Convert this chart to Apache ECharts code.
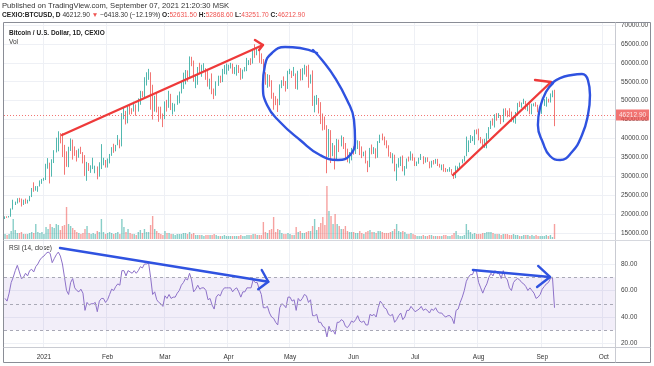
<!DOCTYPE html>
<html><head><meta charset="utf-8">
<script src="https://cdn.jsdelivr.net/npm/echarts@6/dist/echarts.min.js"></script>
<style>html,body{margin:0;padding:0;background:#fff}#c{width:654px;height:366px}</style>
</head><body><div id="c"></div>
<script>
// ---- data (prices in thousands of USD), one entry per day starting 2020-12-13 ----
const startDate = [2020, 11, 13];
const totalDays = 298; // axis runs to early October
const opens = [18.8,19.4,19.3,19.4,21.4,22.8,23.1,23.9,23.5,22.7,23.8,23.2,23.7,24.7,26.5,26.3,27.1,27.4,28.8,
29.0,29.4,32.2,33.0,32.0,34.0,36.8,39.4,40.7,40.2,38.3,35.5,33.9,37.3,39.2,36.8,36.2,35.8,36.6,36.1,35.5,30.8,33.0,32.1,32.3,32.4,32.6,30.4,33.5,34.3,34.3,
33.1,33.5,35.5,37.5,36.9,38.3,39.3,38.9,46.2,46.5,44.8,48.0,47.4,47.2,48.7,48.0,49.2,52.2,51.7,55.9,56.1,57.5,54.2,48.8,49.7,47.1,46.3,46.2,
45.1,49.6,48.4,50.5,48.4,48.8,48.9,51.0,52.4,54.9,56.0,57.8,57.3,61.2,59.3,55.9,56.9,58.9,57.6,58.0,58.1,57.4,54.1,54.3,52.3,51.3,55.0,55.9,55.8,57.6,58.7,
58.9,58.9,59.1,57.6,58.8,59.1,58.0,56.1,58.1,58.1,59.8,60.0,59.9,63.6,63.0,63.2,61.4,60.1,56.3,55.7,56.5,53.8,51.7,51.1,50.1,49.1,54.0,55.0,54.9,53.6,
57.8,57.8,56.6,57.2,53.2,57.5,56.4,57.4,58.9,58.3,55.9,56.8,49.5,49.7,49.9,46.8,46.5,43.5,42.9,37.0,40.6,37.3,37.5,34.7,38.8,38.4,39.3,38.5,35.7,34.6,35.7,
37.3,36.7,37.6,39.2,36.9,35.5,35.8,33.6,33.4,37.4,36.7,37.3,35.6,39.1,40.5,40.1,38.4,38.1,35.8,35.5,35.6,31.7,32.5,33.7,34.7,31.6,32.2,34.7,34.5,35.9,
35.0,33.5,33.8,34.7,35.3,33.7,34.2,33.9,32.9,33.8,33.5,34.3,33.1,32.7,32.8,31.8,31.4,31.5,31.8,30.8,29.8,32.1,32.3,33.6,34.3,35.4,37.3,39.4,40.0,40.0,42.2,
41.5,39.9,39.2,38.2,39.7,40.9,42.8,44.6,43.8,46.3,45.6,45.6,44.4,47.8,47.1,47.0,45.9,44.7,44.8,46.7,49.3,48.9,49.3,49.5,47.7,48.9,47.0,49.0,49.0,48.8,47.1,
47.1,48.8,49.3,50.0,49.9,51.8,52.6315];
const highs = [19.4,19.4,19.5,21.5,23.8,23.3,24.2,24.3,24.1,23.8,24.1,23.8,24.8,26.9,28.4,27.4,27.4,28.9,29.3,
29.6,33.3,34.8,33.6,34.5,36.9,40.2,41.9,41.4,41.4,38.3,36.6,37.8,40.0,39.7,37.9,36.9,37.3,37.8,36.4,35.6,33.8,33.5,32.9,34.9,32.8,32.6,33.7,38.5,34.9,34.3,
34.7,35.9,37.7,38.6,38.3,40.9,39.7,46.7,48.2,47.3,48.6,48.9,48.0,49.7,49.0,50.6,52.6,52.5,56.2,57.5,58.4,57.5,54.2,51.3,52.0,48.4,48.4,46.6,
49.8,50.2,52.6,51.8,49.4,49.2,51.4,52.4,54.9,57.4,58.1,58.0,61.7,61.6,60.6,56.9,58.9,60.0,59.5,59.9,58.6,58.4,55.8,57.2,53.2,55.1,56.6,56.6,58.4,59.4,59.8,
59.5,60.0,59.8,58.9,59.5,59.4,58.6,58.2,58.9,61.3,60.7,61.2,63.7,64.9,63.8,63.6,62.5,61.0,57.5,57.0,56.8,55.4,52.1,51.2,50.5,54.3,55.4,56.4,55.2,57.9,
58.4,57.9,58.9,57.2,57.9,58.4,58.6,59.5,59.2,59.5,56.9,58.0,51.3,51.5,50.7,49.6,46.6,45.8,43.5,42.5,42.2,38.8,38.2,39.9,39.7,40.8,40.4,38.8,37.3,36.4,37.5,
37.9,38.2,39.5,39.3,37.9,36.5,36.8,34.1,37.5,38.4,37.7,37.4,39.3,41.0,41.3,40.5,39.5,38.2,36.4,36.1,35.7,33.3,34.8,35.2,35.5,32.7,34.7,35.2,36.6,36.0,
35.0,33.9,34.9,35.9,35.3,35.0,35.0,33.9,34.1,34.3,34.6,34.6,33.3,33.1,33.2,32.2,31.9,32.4,31.9,31.0,32.8,32.6,33.6,34.5,35.4,40.5,39.5,40.9,40.6,42.3,42.4,
42.6,40.4,39.8,39.9,41.4,43.0,44.7,45.3,46.4,46.7,46.7,46.2,47.9,48.0,47.4,48.0,47.1,46.0,47.0,49.4,49.8,49.5,50.5,49.9,49.2,49.3,49.2,49.3,49.6,48.9,48.3,
49.0,50.4,51.0,50.5,51.9,52.7,52.8686];
const lows = [18.7,19.0,19.1,19.3,21.2,22.4,22.8,23.1,22.0,22.4,22.7,22.8,23.4,24.5,25.9,26.2,25.9,27.3,28.0,
28.8,29.0,32.0,28.1,29.9,33.5,36.3,36.6,38.7,35.1,30.4,32.5,32.4,36.7,34.4,35.4,33.9,34.9,35.9,33.4,30.1,28.8,31.4,30.9,31.9,30.8,29.2,29.9,31.9,32.9,32.3,
32.3,33.4,35.4,36.2,36.6,38.2,37.4,37.9,45.1,43.7,44.0,46.3,46.4,47.1,46.0,47.1,48.9,50.9,50.9,54.0,55.5,47.6,45.0,47.1,46.9,44.4,45.2,43.0,
45.1,47.1,48.1,47.5,46.3,47.1,48.9,49.3,51.9,53.1,54.3,55.0,56.1,59.1,55.0,53.3,54.2,57.0,56.3,57.9,55.5,53.7,53.0,51.7,50.4,51.3,53.9,54.7,54.9,57.0,56.9,
57.9,58.5,57.1,57.0,56.6,57.3,55.5,55.8,57.7,57.8,59.4,59.4,59.8,61.3,62.0,60.0,59.7,51.5,54.2,53.4,53.7,50.5,47.6,48.8,47.0,48.8,53.3,53.9,52.4,53.1,
57.0,56.0,56.5,53.1,52.9,55.3,55.4,56.9,56.3,53.4,54.5,48.6,46.9,48.9,46.6,43.8,42.1,42.3,30.8,35.0,33.5,35.3,31.8,34.5,36.4,37.9,37.2,34.8,33.7,33.4,34.2,
35.7,35.9,37.2,35.6,34.8,35.3,33.4,31.1,32.4,35.8,35.9,34.7,34.9,38.8,39.5,38.2,37.4,35.2,34.8,33.4,31.3,28.8,32.3,32.7,31.3,30.2,32.0,33.9,34.2,34.1,
32.7,32.7,33.3,34.3,33.2,33.6,33.8,32.1,32.3,33.1,33.3,32.7,32.3,31.6,31.2,31.1,31.2,31.2,30.4,29.3,29.5,31.7,31.9,33.4,33.9,35.3,36.4,38.8,39.3,38.3,41.1,
39.5,38.7,37.7,37.5,37.4,39.9,42.5,43.4,42.9,44.7,45.4,43.8,44.3,45.9,45.6,45.7,44.4,44.2,43.9,46.6,48.3,48.1,49.1,47.6,47.2,46.4,46.4,48.5,48.4,46.9,46.7,
46.5,48.6,48.4,49.5,49.5,50.9,43.2517];
const closes = [19.4,19.3,19.4,21.4,22.8,23.1,23.9,23.5,22.7,23.8,23.2,23.7,24.7,26.5,26.3,27.1,27.4,28.8,29.0,
29.4,32.2,33.0,32.0,34.0,36.8,39.4,40.7,40.2,38.3,35.5,33.9,37.3,39.2,36.8,36.2,35.8,36.6,36.1,35.5,30.8,33.0,32.1,32.3,32.4,32.6,30.4,33.5,34.3,34.3,33.1,
33.5,35.5,37.5,36.9,38.3,39.3,38.9,46.2,46.5,44.8,48.0,47.4,47.2,48.7,48.0,49.2,52.2,51.7,55.9,56.1,57.5,54.2,48.8,49.7,47.1,46.3,46.2,45.1,
49.6,48.4,50.5,48.4,48.8,48.9,51.0,52.4,54.9,56.0,57.8,57.3,61.2,59.3,55.9,56.9,58.9,57.6,58.0,58.1,57.4,54.1,54.3,52.3,51.3,55.0,55.9,55.8,57.6,58.7,58.9,
58.9,59.1,57.6,58.8,59.1,58.0,56.1,58.1,58.1,59.8,60.0,59.9,63.6,63.0,63.2,61.4,60.1,56.3,55.7,56.5,53.8,51.7,51.1,50.1,49.1,54.0,55.0,54.9,53.6,57.8,
57.8,56.6,57.2,53.2,57.5,56.4,57.4,58.9,58.3,55.9,56.8,49.5,49.7,49.9,46.8,46.5,43.5,42.9,37.0,40.6,37.3,37.5,34.7,38.8,38.4,39.3,38.5,35.7,34.6,35.7,37.3,
36.7,37.6,39.2,36.9,35.5,35.8,33.6,33.4,37.4,36.7,37.3,35.6,39.1,40.5,40.1,38.4,38.1,35.8,35.5,35.6,31.7,32.5,33.7,34.7,31.6,32.2,34.7,34.5,35.9,35.0,
33.5,33.8,34.7,35.3,33.7,34.2,33.9,32.9,33.8,33.5,34.3,33.1,32.7,32.8,31.8,31.4,31.5,31.8,30.8,29.8,32.1,32.3,33.6,34.3,35.4,37.3,39.4,40.0,40.0,42.2,41.5,
39.9,39.2,38.2,39.7,40.9,42.8,44.6,43.8,46.3,45.6,45.6,44.4,47.8,47.1,47.0,45.9,44.7,44.8,46.7,49.3,48.9,49.3,49.5,47.7,48.9,47.0,49.0,49.0,48.8,47.1,47.1,
48.8,49.3,50.0,49.9,51.8,52.6315,46.2129];
const volumes = [5,4,5,8,20,9,6,6,7,5,5,5,6,7,6,15,7,6,7,
5,12,10,15,12,11,15,14,9,13,14,32,15,13,11,9,7,6,5,6,10,13,6,5,6,5,8,7,20,7,5,
6,7,6,5,6,7,5,20,12,7,10,6,5,5,4,7,9,6,10,7,7,14,23,10,8,6,5,4,
8,6,6,5,5,4,5,5,5,6,6,5,7,5,6,4,4,4,4,3,4,4,4,4,5,4,3,3,3,4,3,
3,3,3,3,3,3,4,3,3,4,4,4,5,5,4,4,4,17,7,6,9,10,22,7,10,9,6,5,5,6,
5,4,4,12,7,8,6,6,7,8,8,13,20,9,12,16,22,14,53,28,23,15,25,15,13,10,10,13,8,7,7,
7,6,6,8,6,5,7,8,9,7,7,6,8,8,7,6,6,6,7,8,10,15,8,7,8,7,5,5,6,5,
4,3,3,3,4,3,3,4,4,3,3,3,3,3,4,4,3,3,4,6,8,4,3,3,4,15,9,7,5,6,5,
5,5,6,6,7,7,7,6,5,5,5,4,5,5,5,4,4,5,4,4,3,3,4,4,4,3,4,3,4,3,3,
3,3,4,3,4,2,15];
const rsi = [54,52,58,66,70,75,79,74,69,70,73,71,75,76,74,78,80,83,85,86,
88,89,88,81,84,87,89,86,80,70,60,57,66,69,62,60,59,61,58,45,
51,49,50,50,51,44,52,54,54,51,53,57,61,60,63,65,64,75,75,71,
75,74,73,75,73,75,78,77,80,80,81,70,57,59,53,51,50,48,56,54,
57,54,55,55,58,60,64,66,69,68,73,68,59,61,64,61,62,62,60,53,
54,49,46,55,57,56,60,62,62,62,62,59,61,62,59,55,59,59,62,62,
62,68,66,66,61,57,47,47,48,43,40,39,36,34,47,50,49,47,55,55,
52,53,45,54,52,54,57,56,51,53,41,41,42,36,36,33,32,25,33,29,
30,27,36,36,38,37,33,32,34,37,36,38,41,37,36,37,34,34,42,41,
42,40,47,52,50,47,46,42,41,42,36,38,41,43,38,40,45,45,48,46,
44,45,46,48,45,46,45,43,46,45,47,44,43,43,41,40,41,41,39,35,
45,46,51,55,60,67,70,72,72,76,74,66,62,58,62,65,70,73,71,75,
73,73,69,75,70,68,62,60,66,68,69,68,66,65,63,60,62,60,58,54,
55,57,61,63,65,66,69,70,47];
const priceTicks = [15000,20000,25000,30000,35000,40000,45000,50000,55000,60000,65000,70000];
const rsiTicks = [20,40,60,80];
const monthNames = ['2021','Feb','Mar','Apr','May','Jun','Jul','Aug','Sep','Oct','Nov','Dec'];
const lastPrice = 46212.90;
// hand-drawn annotations, in data coordinates [dayIndex, price] / [dayIndex, rsi]
const redArrow1 = [[27.8,40913],[125.8,64712]];
const redArrow1Head = [[121.9,66030],[125.8,64712],[123.9,63385]];
const redArrow2 = [[218.5,30337],[266.3,54929]];
const redArrow2Head = [[258.5,55458],[266.3,54929]];
const blueLoop1 = [[152.2,62600],[143.9,63910],[136.6,64180],[130.2,62600],[126.8,59420],[125.8,54130],[127.8,48840],[134.1,44350],[143.9,39590],[153.6,35620],[162.4,34300],[168.3,35620],[170.7,39590],[170.2,44880],[166.8,50170],[161.0,55980],[154.6,60740],[150.2,63390]];
const blueLoop2 = [[266.8,54660],[270.7,55980],[276.5,56780],[281.4,57040],[284.3,55450],[285.3,51490],[284.3,46200],[281.4,40910],[276.5,36420],[270.7,34300],[265.8,35360],[262.4,38800],[259.9,43560],[260.9,48050],[263.8,52280],[267.3,54660]];
const rsiArrow1 = [[26.8,92.1],[128.4,66.6]];
const rsiArrow1Head = [[125.2,75.5],[128.4,66.6],[123.5,60.9]];
const rsiArrow2 = [[228.2,75.5],[265.8,70.2]];
const rsiArrow2Head = [[260.0,78.5],[265.8,70.2],[259.5,62.6]];

// ---- build ----
const categories = [];
for (let k = 0; k < totalDays; k++) {
  const d = new Date(Date.UTC(startDate[0], startDate[1], startDate[2] + k));
  categories.push(d.toISOString().slice(0, 10));
}
const UP = '#26a69a', DOWN = '#ef5350';
const candleData = opens.map((o, i) => [o * 1000, closes[i] * 1000, lows[i] * 1000, highs[i] * 1000]);
const volData = volumes.map((v, i) => ({value: v, itemStyle: {color: closes[i] >= opens[i] ? 'rgba(38,166,154,0.55)' : 'rgba(239,83,80,0.55)'}}));
const isMonthStart = (idx, val) => typeof val === 'string' && val.slice(8) === '01';
const FONT = 'Liberation Sans';
const L = 4, R = 39;

function annot(data, color, xIdx, yIdx, smooth) {
  return {type: 'line', xAxisIndex: xIdx, yAxisIndex: yIdx, data: data, symbol: 'none', clip: false,
    smooth: smooth || false, silent: true, z: 10,
    lineStyle: {color: color, width: 2.4, cap: 'round', join: 'round'}};
}
const RED = '#ee3a3a', BLUE = '#2f52e0';

const chart = echarts.init(document.getElementById('c'), null, {renderer: 'canvas'});
chart.setOption({
  animation: false,
  backgroundColor: '#ffffff',
  textStyle: {fontFamily: FONT},
  grid: [
    {left: L, right: R, top: 25, height: 208},      // price
    {left: L, right: R, top: 180, height: 59},      // volume
    {left: L, right: R, top: 264, height: 79.5},    // rsi
    {left: L, right: R, top: 22, height: 325}       // month gridlines + time labels
  ],
  xAxis: [
    {type: 'category', gridIndex: 0, data: categories, show: false},
    {type: 'category', gridIndex: 1, data: categories, show: false},
    {type: 'value', gridIndex: 0, min: -0.5, max: totalDays - 0.5, show: false},
    {type: 'value', gridIndex: 2, min: -0.5, max: totalDays - 0.5, show: false},
    {type: 'category', gridIndex: 3, data: categories, axisLine: {show: false}, axisTick: {show: false},
      axisLabel: {interval: isMonthStart, margin: 7, fontSize: 6.5, color: '#333', fontFamily: FONT,
        formatter: v => monthNames[parseInt(v.slice(5, 7), 10) - 1]},
      splitLine: {show: true, interval: isMonthStart, lineStyle: {color: '#eef0f5', width: 1}}},
    {type: 'category', gridIndex: 2, data: categories, show: false}
  ],
  yAxis: [
    {type: 'value', gridIndex: 0, position: 'right', min: 15000, max: 70000, interval: 5000,
      axisLine: {show: false}, axisTick: {show: false},
      axisLabel: {fontSize: 6.5, color: '#444', margin: 6, fontFamily: FONT, formatter: v => v.toFixed(2)},
      splitLine: {lineStyle: {color: '#eef0f5'}}},
    {type: 'value', gridIndex: 1, min: 0, max: 59, show: false},
    {type: 'value', gridIndex: 2, position: 'right', min: 20, max: 80, interval: 20,
      axisLine: {show: false}, axisTick: {show: false},
      axisLabel: {fontSize: 6.5, color: '#444', margin: 6, fontFamily: FONT, formatter: v => v.toFixed(2)},
      splitLine: {lineStyle: {color: '#eef0f5'}}},
    {type: 'value', gridIndex: 3, min: 0, max: 1, show: false}
  ],
  series: [
    {type: 'bar', xAxisIndex: 1, yAxisIndex: 1, data: volData, barWidth: 1.4, silent: true, z: 1},
    {type: 'candlestick', xAxisIndex: 0, yAxisIndex: 0, data: candleData, barWidth: 1.3, silent: true, z: 3,
      itemStyle: {color: UP, color0: DOWN, borderColor: UP, borderColor0: DOWN, borderWidth: 0.8},
      markLine: {silent: true, symbol: ['none', 'none'], animation: false,
        data: [{yAxis: lastPrice}],
        lineStyle: {color: DOWN, type: [1, 2], width: 1, opacity: 0.8},
        label: {show: true, position: 'end', distance: 0, formatter: lastPrice.toFixed(2),
          backgroundColor: DOWN, color: '#fff', fontSize: 6.5, fontFamily: FONT, padding: [2, 3, 2, 4]}}},
    {type: 'line', xAxisIndex: 5, yAxisIndex: 2, data: rsi, symbol: 'none', silent: true, z: 3, clip: false,
      lineStyle: {color: '#8e72c9', width: 1},
      markArea: {silent: true, itemStyle: {color: 'rgba(126,87,194,0.10)'}, data: [[{yAxis: 30}, {yAxis: 70}]]},
      markLine: {silent: true, symbol: ['none', 'none'], label: {show: false},
        lineStyle: {color: '#a9a9b6', type: [3, 3], width: 1},
        data: [{yAxis: 70}, {yAxis: 50}, {yAxis: 30}]}},
    annot(redArrow1, RED, 2, 0),
    annot(redArrow1Head, RED, 2, 0),
    annot(redArrow2, RED, 2, 0),
    annot(redArrow2Head, RED, 2, 0),
    annot(blueLoop1, BLUE, 2, 0, 0.5),
    annot(blueLoop2, BLUE, 2, 0, 0.5),
    annot(rsiArrow1, BLUE, 3, 2),
    annot(rsiArrow1Head, BLUE, 3, 2),
    annot(rsiArrow2, BLUE, 3, 2),
    annot(rsiArrow2Head, BLUE, 3, 2)
  ],
  graphic: [
    {type: 'rect', shape: {x: 3.5, y: 22.5, width: 647, height: 340}, style: {fill: 'none', stroke: '#8a8d96', lineWidth: 1}, silent: true, z: 20},
    {type: 'line', shape: {x1: 615.5, y1: 22.5, x2: 615.5, y2: 362.5}, style: {stroke: '#c9cbd2', lineWidth: 1}, silent: true, z: 20},
    {type: 'line', shape: {x1: 3.5, y1: 240.5, x2: 650.5, y2: 240.5}, style: {stroke: '#d6d8de', lineWidth: 1}, silent: true, z: 20},
    {type: 'line', shape: {x1: 3.5, y1: 347.5, x2: 650.5, y2: 347.5}, style: {stroke: '#c9cbd2', lineWidth: 1}, silent: true, z: 20},
    {type: 'text', x: 2, y: 6, silent: true, style: {text: 'Published on TradingView.com, September 07, 2021 21:20:30 MSK',
      font: '7.6px "Liberation Sans"', fill: '#333', verticalAlign: 'middle'}},
    {type: 'text', x: 2, y: 15.5, silent: true, style: {
      text: '{b|CEXIO:BTCUSD, D} {n|46212.90} {r|▼} {n|−6418.30 (−12.19%)} {b|O:}{r|52631.50} {b|H:}{r|52868.60} {b|L:}{r|43251.70} {b|C:}{r|46212.90}',
      verticalAlign: 'middle', fontFamily: FONT, fontSize: 6.6,
      rich: {b: {fontWeight: 'bold', fill: '#222', fontSize: 6.6, fontFamily: FONT},
             n: {fill: '#333', fontSize: 6.6, fontFamily: FONT},
             r: {fill: '#ef5350', fontSize: 6.6, fontFamily: FONT}}}},
    {type: 'text', x: 9, y: 33, silent: true, style: {text: 'Bitcoin / U.S. Dollar, 1D, CEXIO', font: 'bold 6.5px "Liberation Sans"', fill: '#222', verticalAlign: 'middle'}},
    {type: 'text', x: 9, y: 42, silent: true, style: {text: 'Vol', font: '6.5px "Liberation Sans"', fill: '#333', verticalAlign: 'middle'}},
    {type: 'text', x: 9, y: 248, silent: true, style: {text: 'RSI (14, close)', font: '6.5px "Liberation Sans"', fill: '#333', verticalAlign: 'middle'}}
  ]
});
</script>
</body></html>
